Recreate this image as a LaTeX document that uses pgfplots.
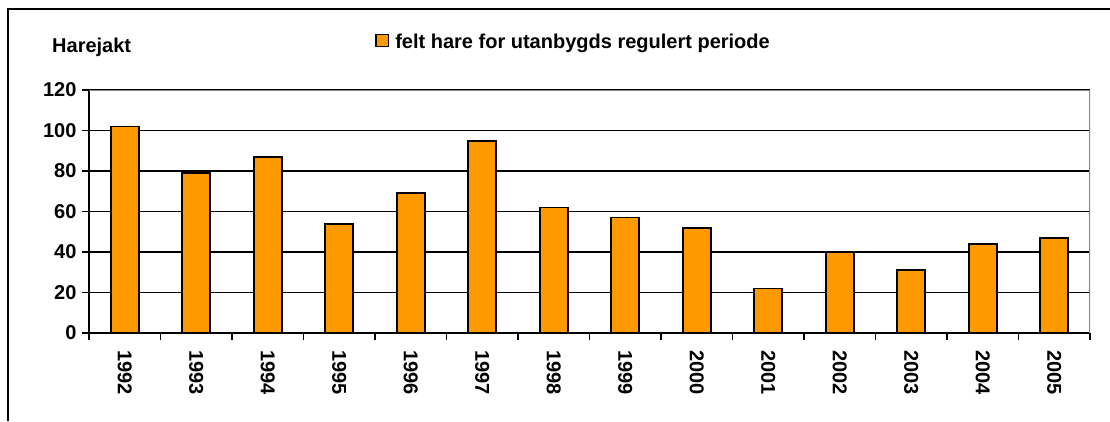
\documentclass[border=0pt]{standalone}
\usepackage{fontspec}
\setmainfont{Liberation Sans}
\usepackage{pgfplots}
\pgfplotsset{compat=1.18}
\definecolor{barorange}{RGB}{255,153,0}
\definecolor{framegray}{RGB}{136,136,136}
\begin{document}
\begin{tikzpicture}[x=1pt,y=1pt]
\useasboundingbox (0pt,0pt) rectangle (1110pt,-421pt);
\draw[line width=1.3pt] (8pt,-421pt) -- (8pt,-9pt) -- (1110pt,-9pt);
\node[anchor=base west, inner sep=0pt, font=\fontsize{20}{24}\selectfont\bfseries] at (52pt,-52pt) {Harejakt};
\begin{axis}[
  at={(89pt,-333pt)}, anchor=south west,
  scale only axis, width=1001pt, height=243pt,
  xmin=-0.5, xmax=13.5, ymin=0, ymax=120,
  ytick={0,20,...,120},
  xtick={0,...,13},
  xticklabels={1992,1993,1994,1995,1996,1997,1998,1999,2000,2001,2002,2003,2004,2005},
  minor xtick={-0.5,0.5,...,13.5},
  major x tick style={draw=none},
  tick align=outside,
  tick pos=left,
  major tick length=7pt,
  minor tick length=7pt,
  every tick/.style={black, line width=1.7pt},
  axis x line*=bottom, axis y line*=left,
  axis line style={-, black, line width=2pt},
  ymajorgrids,
  major grid style={black, line width=1.8pt},
  ticklabel style={font=\fontsize{20}{24}\selectfont\bfseries},
  /pgf/number format/assume math mode=true,
  xticklabel style={rotate=-90, anchor=west},
  xticklabel shift=7pt,
  yticklabel shift=2pt,
  legend style={at={(axis description cs:0.2857,1.199)}, anchor=west, draw=none, fill=none, inner sep=0pt,
    font=\fontsize{20}{24}\selectfont\bfseries,
    /tikz/every odd column/.append style={column sep=4pt}},
  legend image code/.code={\draw[black,line width=1.6pt,fill=barorange] (0pt,-5pt) rectangle (12.5pt,7pt);},
]
\addplot[ybar, bar width=28pt, fill=barorange, draw=black, line width=1.8pt] coordinates {
 (0,102) (1,79) (2,87) (3,54) (4,69) (5,95) (6,62) (7,57) (8,52) (9,22) (10,40) (11,31) (12,44) (13,47)};
\addlegendentry{felt hare for utanbygds regulert periode}
\draw[framegray, line width=2pt] (rel axis cs:0,1) -- (rel axis cs:1,1) -- (rel axis cs:1,0);
\end{axis}
\end{tikzpicture}
\end{document}
